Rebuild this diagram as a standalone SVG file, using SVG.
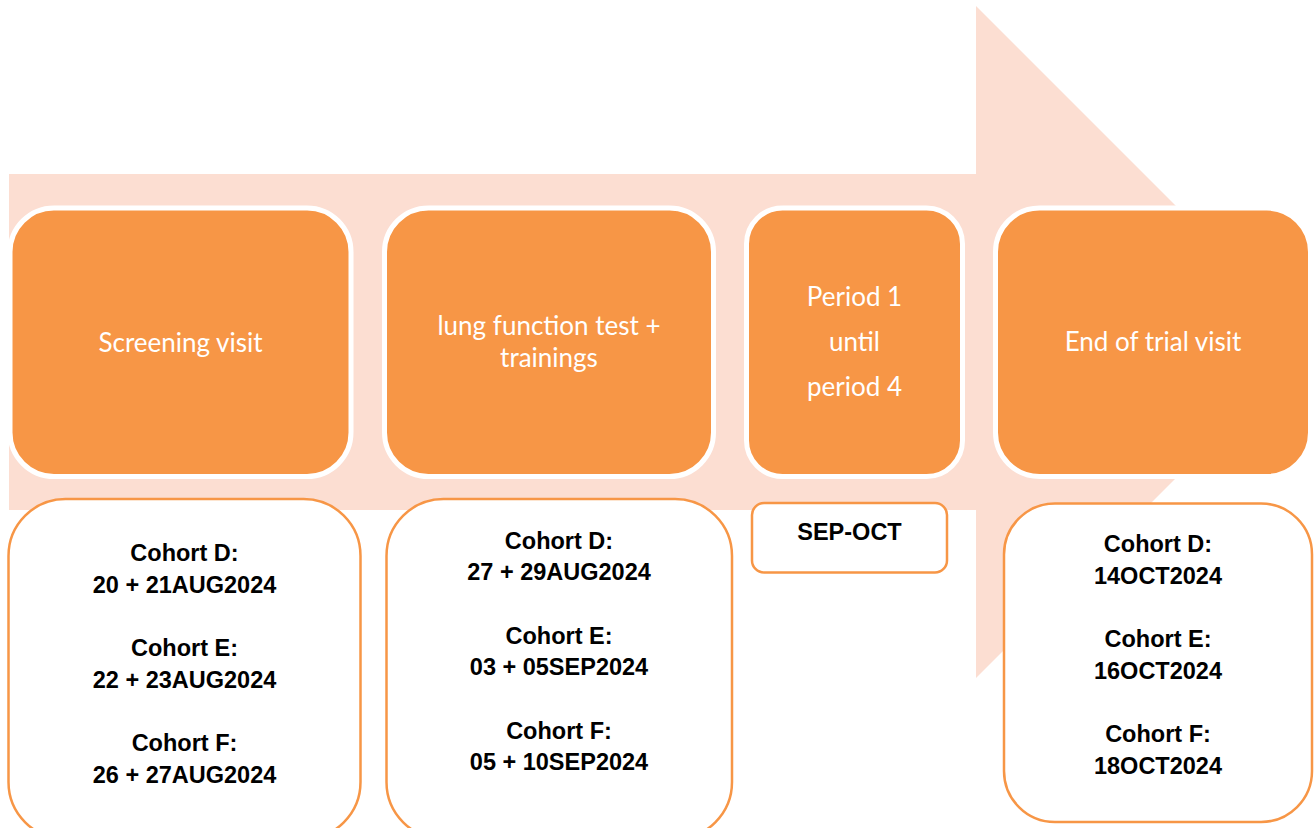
<svg xmlns="http://www.w3.org/2000/svg" width="1316" height="828" viewBox="0 0 1316 828">
<style>
.bg{fill:#FCDED2}
.phase{fill:#F79646;stroke:#FFFFFF;stroke-width:5}
.date{fill:#FFFFFF;stroke:#F79646;stroke-width:2.5}
.pt{font-family:Lato,"Liberation Sans",sans-serif;font-size:26px;fill:#FFFFFF;text-anchor:middle}
.dt{font-family:"Liberation Sans",Arial,sans-serif;font-weight:bold;font-size:23.5px;fill:#000000;text-anchor:middle}
</style>
<rect width="1316" height="828" fill="#FFFFFF"/>
<g id="arrow">
<polygon class="bg" points="9,174 976,174 976,6 1312,342 976,678 976,510 9,510"/>
</g>
<g id="connectors"></g>
<g id="screening">
<rect class="phase" x="10" y="208" width="341" height="268.5" rx="44" ry="44"/>
<text class="pt" x="180.5" y="352">Screening visit</text>
</g>
<g id="lung">
<rect class="phase" x="384.5" y="208" width="329" height="268.5" rx="44" ry="44"/>
<text class="pt" x="549" y="335">lung function test +</text>
<text class="pt" x="549" y="367">trainings</text>
</g>
<g id="period">
<rect class="phase" x="746.5" y="208" width="216" height="268.5" rx="36" ry="36"/>
<text class="pt" x="854.5" y="306">Period 1</text>
<text class="pt" x="854.5" y="351">until</text>
<text class="pt" x="854.5" y="396">period 4</text>
</g>
<g id="endtrial">
<rect class="phase" x="995.5" y="208" width="315" height="268.5" rx="44" ry="44"/>
<text class="pt" x="1153" y="351">End of trial visit</text>
</g>
<g id="screening-dates">
<rect class="date" x="8.5" y="499" width="352" height="340" rx="57" ry="57"/>
<text class="dt" x="184.5" y="561">Cohort D:</text>
<text class="dt" x="184.5" y="592.7">20 + 21AUG2024</text>
<text class="dt" x="184.5" y="656">Cohort E:</text>
<text class="dt" x="184.5" y="687.8">22 + 23AUG2024</text>
<text class="dt" x="184.5" y="751.2">Cohort F:</text>
<text class="dt" x="184.5" y="783">26 + 27AUG2024</text>
</g>
<g id="lung-dates">
<rect class="date" x="386.5" y="499" width="345.5" height="340" rx="57" ry="57"/>
<text class="dt" x="559" y="548.5">Cohort D:</text>
<text class="dt" x="559" y="580.2">27 + 29AUG2024</text>
<text class="dt" x="559" y="643.6">Cohort E:</text>
<text class="dt" x="559" y="675.3">03 + 05SEP2024</text>
<text class="dt" x="559" y="738.7">Cohort F:</text>
<text class="dt" x="559" y="770.4">05 + 10SEP2024</text>
</g>
<g id="period-dates">
<rect class="date" x="752" y="503" width="195" height="69.5" rx="12" ry="12"/>
<text class="dt" x="849.5" y="540">SEP-OCT</text>
</g>
<g id="endtrial-dates">
<rect class="date" x="1004" y="503.5" width="308" height="318.5" rx="51" ry="51"/>
<text class="dt" x="1158" y="552">Cohort D:</text>
<text class="dt" x="1158" y="583.7">14OCT2024</text>
<text class="dt" x="1158" y="647">Cohort E:</text>
<text class="dt" x="1158" y="678.8">16OCT2024</text>
<text class="dt" x="1158" y="742.2">Cohort F:</text>
<text class="dt" x="1158" y="774">18OCT2024</text>
</g>
</svg>
